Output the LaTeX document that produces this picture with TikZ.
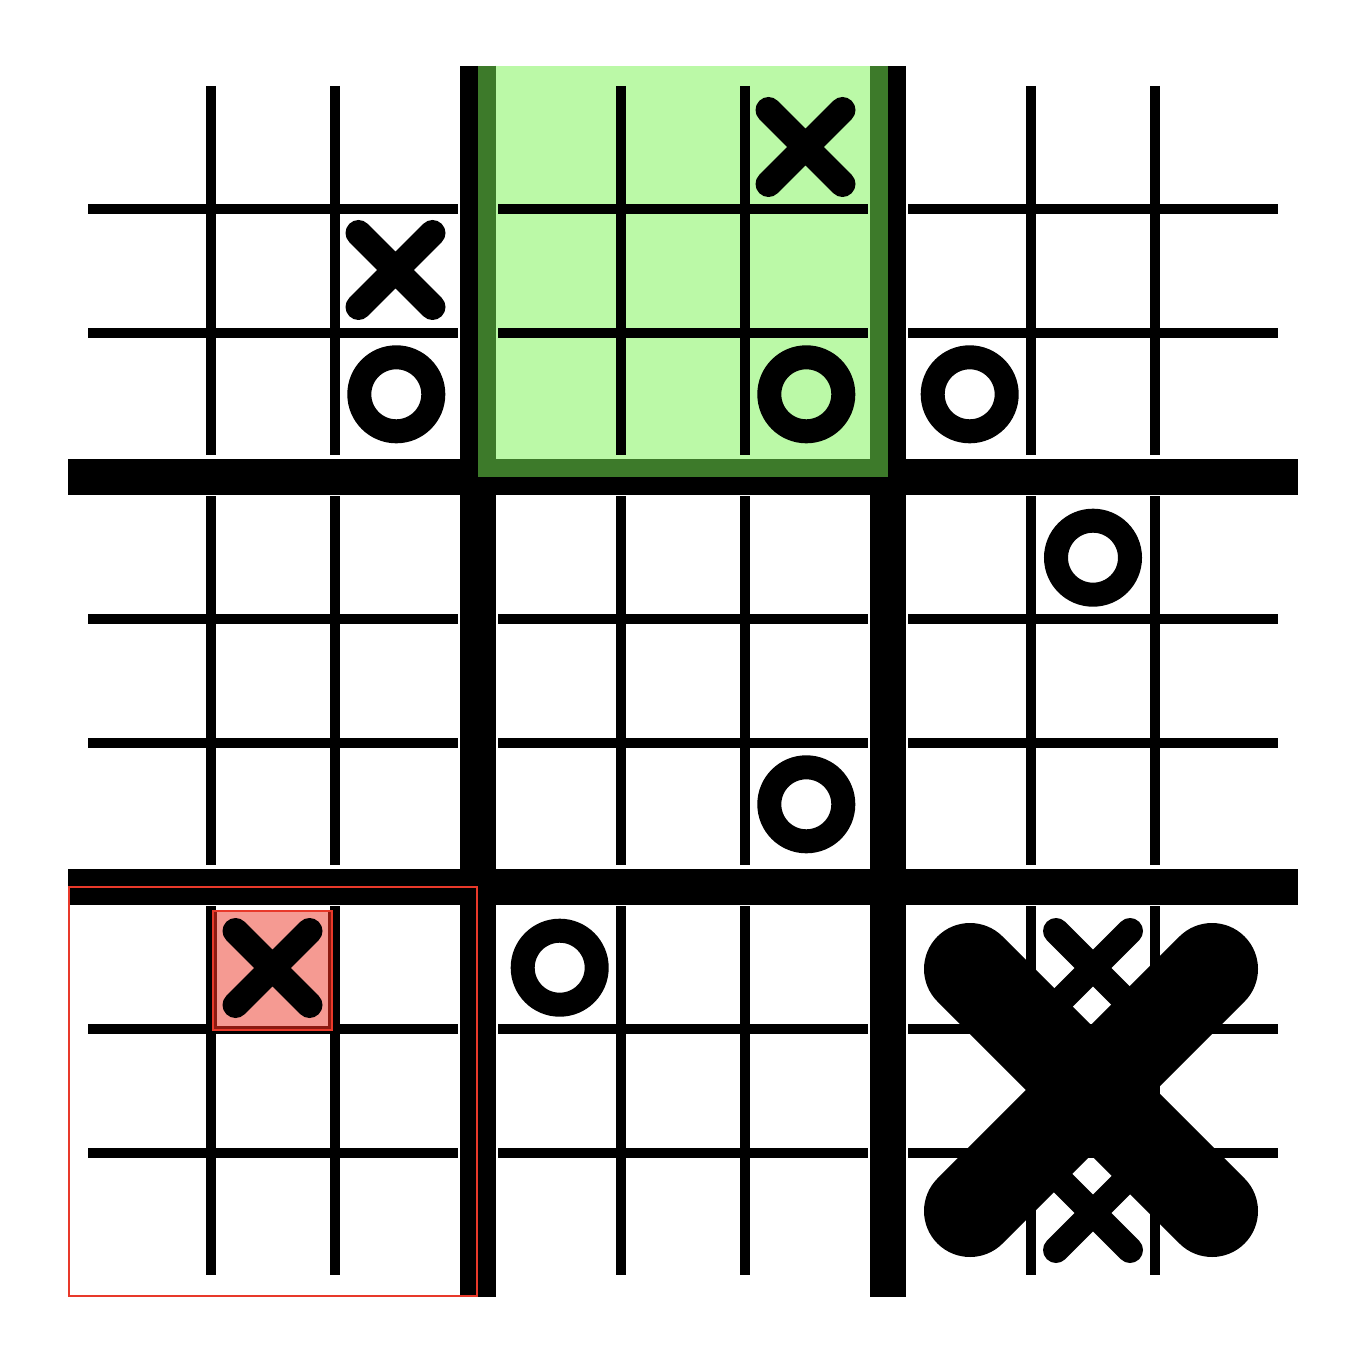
\documentclass[tikz,border=0pt]{standalone}
\usepackage{xcolor}
\usepackage{tikz}
\usetikzlibrary{shapes,positioning}
\definecolor{boardGreen}{HTML}{BBF9A7}
\definecolor{edgeGreen}{HTML}{3D7A2A}
\definecolor{lastFill}{HTML}{F59A92}
\definecolor{lastEdge}{HTML}{8B1A10}
\definecolor{markRed}{HTML}{E8392A}

\begin{document}
\begin{tikzpicture}[x=1pt,y=-1pt,
    smallline/.style={line width=10pt},
    bigline/.style={line width=36pt},
    xline/.style={draw=black,line width=26pt,line cap=round},
    bigxline/.style={draw=black,line width=92pt,line cap=round},
    omark/.style={circle,draw=black,line width=24pt,minimum size=74pt,inner sep=0pt}]
    \useasboundingbox (0,0) rectangle (1368,1364);
    \fill[white] (0,0) rectangle (1368,1364);

    % heavy lines between the nine boards
    \foreach \p in {478,888} \draw[bigline] (\p,66) -- (\p,1297);
    \foreach \p in {477,887} \draw[bigline] (68,\p) -- (1298,\p);

    % board where the next move goes
    \fill[boardGreen] (478,66) rectangle (888,477);
    \draw[edgeGreen,line width=18pt] (487,66) -- (487,468) -- (879,468) -- (879,66);

    % small grids
    \foreach \bx in {88,498,908} \foreach \by in {86,496,906} {
        \foreach \k in {1,2} {
            \draw[smallline] (\bx+\k*123.33,\by) -- (\bx+\k*123.33,\by+369);
            \draw[smallline] (\bx,\by+\k*123.33) -- (\bx+370,\by+\k*123.33);
        }
    }

    % last move
    \fill[lastFill] (212,910) rectangle (333,1031);
    \draw[lastEdge,line width=3pt] (215.5,910) -- (215.5,1027) -- (329.5,1027) -- (329.5,910);
    \draw[markRed,line width=2.5pt] (213.2,911.2) rectangle (331.8,1029.8);
    \draw[markRed,line width=2.5pt] (69,887) rectangle (477,1296);

    % marks
    \coordinate (tlX) at (395.5,270);
    \coordinate (tmX) at (805.5,147);
    \coordinate (blX) at (272.5,968);
    \coordinate (brX1) at (1093,968);
    \coordinate (brX2) at (1093,1213);
    \coordinate (brWin) at (1091,1090);
    \foreach \c in {tlX,tmX,blX,brX1,brX2}
        \draw[xline] (\c) +(-37,-37) -- +(37,37) (\c) +(-37,37) -- +(37,-37);
    \node[omark] (tlO) at (396.3,394.3) {};
    \node[omark] (tmO) at (806.3,394.3) {};
    \node[omark] (trO) at (969.7,394.3) {};
    \node[omark] (mrO) at (1093,557.7) {};
    \node[omark] (mmO) at (806.3,804.3) {};
    \node[omark] (bmO) at (559.7,967.7) {};
    \draw[bigxline] (brWin) +(-121,-121) -- +(121,121) (brWin) +(-121,121) -- +(121,-121);
\end{tikzpicture}
\end{document}
